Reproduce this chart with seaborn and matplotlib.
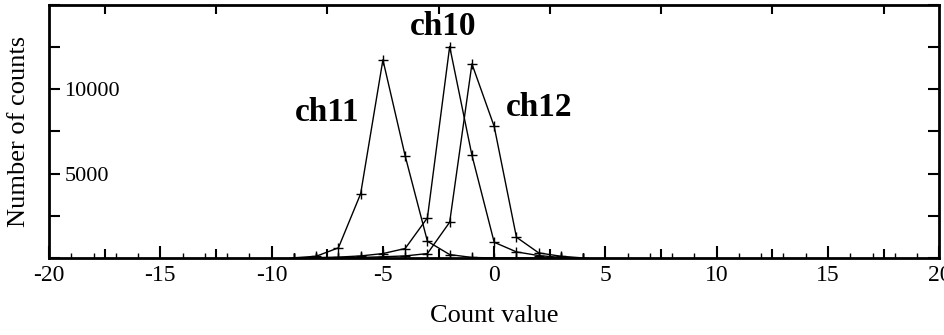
import numpy as np
import pandas as pd
import matplotlib
matplotlib.use('Agg')
import matplotlib.pyplot as plt
import seaborn as sns
from matplotlib.ticker import MultipleLocator, FuncFormatter

sns.set_style('ticks')
plt.rcParams['font.family'] = ['Liberation Serif', 'DejaVu Serif']
plt.rcParams.update({'axes.unicode_minus': False, 'text.color': 'black',
                     'axes.labelcolor': 'black', 'axes.edgecolor': 'black',
                     'xtick.color': 'black', 'ytick.color': 'black'})

# Values
count_value = [-9, -8, -7, -6, -5, -4, -3, -2, -1, 0, 1, 2, 3, 4]
ch10 = [0, 20, 50, 120, 260, 560, 2380, 12540, 6090, 930, 360, 140, 30, 0]
ch11 = [10, 100, 600, 3810, 11750, 6050, 990, 200, 30, 0, 0, 0, 0, 0]
ch12 = [0, 0, 10, 30, 70, 120, 260, 2120, 11510, 7800, 1230, 300, 100, 0]

channels = {'ch10': ch10, 'ch11': ch11, 'ch12': ch12}
label_pos = {'ch10': (-2.3, 13750), 'ch11': (-7.5, 8600), 'ch12': (2.0, 8900)}

df = pd.concat([pd.DataFrame({'Count value': count_value, 'counts': v, 'channel': k})
                for k, v in channels.items()], ignore_index=True)

fig = plt.figure(figsize=(9.44, 3.35), dpi=100)
ax = fig.add_axes([0.052, 0.23, 0.943, 0.755])

for name in channels:
    sns.lineplot(data=df[df['channel'] == name], x='Count value', y='counts',
                 color='black', lw=1, marker='+', markersize=7, mew=1,
                 markeredgecolor='black', ax=ax, legend=False)
    x, y = label_pos[name]
    ax.text(x, y, name, fontsize=24, fontweight='bold', ha='center', va='center')

ax.set_xlim(-20, 20)
ax.set_ylim(0, 15000)

ax.set_xlabel('Count value', fontsize=19, labelpad=14)
ax.set_ylabel('Number of counts', fontsize=19, labelpad=14)

for s in ax.spines.values():
    s.set_linewidth(2)
    s.set_visible(True)

# x: major every 5, minor every 1 on the bottom; 2.5 ticks from a twin axis
ax.xaxis.set_major_locator(MultipleLocator(5))
ax.xaxis.set_minor_locator(MultipleLocator(1))
ax.tick_params(axis='x', which='major', direction='in', length=9, width=1.5,
               top=True, labelsize=17, pad=5)
ax.tick_params(axis='x', which='minor', direction='in', length=3.5, width=1,
               top=False)

ax2 = ax.twiny()
ax2.set_xlim(ax.get_xlim())
ax2.set_xticks(np.arange(-17.5, 20, 5))
ax2.tick_params(axis='x', direction='in', length=6.5, width=1.5,
                bottom=True, top=True, labelbottom=False, labeltop=False)
for s in ax2.spines.values():
    s.set_visible(False)

# y: ticks every 2500, labels only 5000 and 10000 inside the frame
ax.yaxis.set_major_locator(MultipleLocator(2500))
ax.yaxis.set_major_formatter(FuncFormatter(
    lambda v, p: f'{int(v)}' if int(v) in (5000, 10000) else ''))
ax.tick_params(axis='y', direction='in', length=8, width=1.5, right=True,
               labelsize=16, pad=-11)
for lab in ax.get_yticklabels():
    lab.set_horizontalalignment('left')

fig.savefig('out.png', dpi=100)
